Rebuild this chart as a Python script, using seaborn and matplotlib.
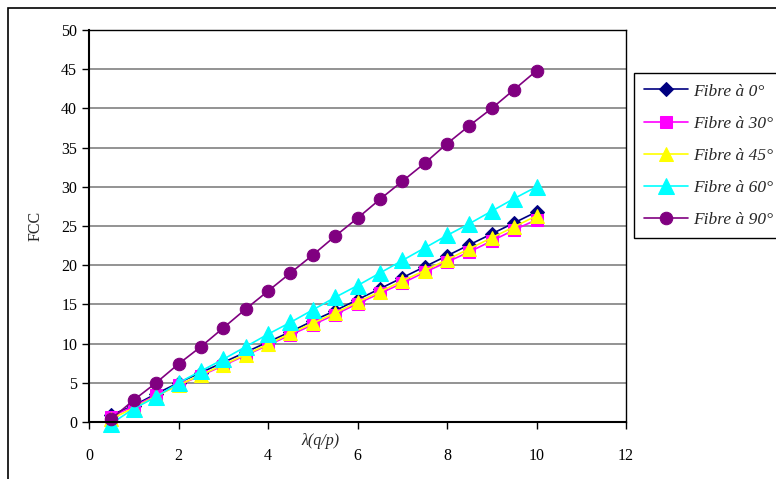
import matplotlib
matplotlib.use('Agg')
import matplotlib.pyplot as plt
import matplotlib.patches as mpatches
import numpy as np
import pandas as pd
import seaborn as sns

# lambda(q/p) values
lam = [0.5, 1, 1.5, 2, 2.5, 3, 3.5, 4, 4.5, 5, 5.5, 6, 6.5, 7, 7.5, 8, 8.5, 9, 9.5, 10]

fibre_0 = [0.9, 2.1, 3.6, 5.0, 6.3, 7.6, 8.9, 10.2, 11.5, 12.9, 14.2, 15.6, 17.0, 18.4, 19.8, 21.2, 22.6, 24.0, 25.4, 26.8]
fibre_30 = [0.7, 2.0, 3.4, 4.7, 5.9, 7.2, 8.5, 9.8, 11.1, 12.4, 13.7, 15.1, 16.4, 17.7, 19.1, 20.4, 21.7, 23.1, 24.5, 25.8]
fibre_45 = [0.4, 1.8, 3.3, 4.7, 6.0, 7.3, 8.6, 9.9, 11.3, 12.6, 13.9, 15.3, 16.6, 18.0, 19.3, 20.7, 22.1, 23.5, 24.9, 26.3]
fibre_60 = [-0.2, 1.7, 3.2, 5.0, 6.5, 8.0, 9.6, 11.2, 12.7, 14.3, 15.9, 17.4, 19.0, 20.6, 22.2, 23.8, 25.3, 26.9, 28.5, 30.0]
fibre_90 = [0.4, 2.8, 5.0, 7.4, 9.6, 12.0, 14.4, 16.7, 19.0, 21.3, 23.7, 26.0, 28.4, 30.7, 33.0, 35.5, 37.8, 40.0, 42.4, 44.8]

labels = ['Fibre à 0°', 'Fibre à 30°', 'Fibre à 45°', 'Fibre à 60°', 'Fibre à 90°']
series = [fibre_0, fibre_30, fibre_45, fibre_60, fibre_90]
colors = ['#000080', '#FF00FF', '#FFFF00', '#00FFFF', '#800080']
markers = ['D', 's', '^', '^', 'o']
msizes = [7, 9, 10, 11, 9]

sns.set_theme(style='white')
plt.rcParams['font.family'] = ['Liberation Serif', 'DejaVu Serif']

df = pd.DataFrame({
    'lam': np.tile(lam, len(labels)),
    'fcc': np.concatenate(series),
    'serie': np.repeat(labels, len(lam)),
})

fig = plt.figure(figsize=(7.76, 4.79), dpi=100)
ax = fig.add_axes([89 / 776, 57 / 479, 537 / 776, 392 / 479])

for lab, col, mk, ms in zip(labels, colors, markers, msizes):
    sub = df[df['serie'] == lab]
    sns.lineplot(data=sub, x='lam', y='fcc', ax=ax, color=col, marker=mk,
                 markersize=ms, markeredgecolor=col, linewidth=1.2,
                 label=lab, clip_on=False, legend=False)

ax.set_xlim(0, 12)
ax.set_ylim(0, 50)
ax.set_xticks(range(0, 13, 2))
ax.set_yticks(range(0, 51, 5))
ax.yaxis.grid(True, color='#808080', linewidth=1.2)
ax.set_axisbelow(True)
ax.set_xlabel('')
ax.set_ylabel('')
for s in ax.spines.values():
    s.set_color('#000000')
    s.set_linewidth(1.0)
ax.spines['left'].set_linewidth(1.5)
ax.spines['bottom'].set_linewidth(1.5)
ax.tick_params(axis='both', direction='out', length=5, width=1, color='black',
               labelsize=11.5, labelcolor='black', bottom=True, left=True)
ax.tick_params(axis='x', pad=14)

fig.text(320 / 776, 1 - 441 / 479, 'λ(q/p)', fontsize=11.5, style='italic',
         ha='center', va='center')
fig.text(36 / 776, 1 - 226 / 479, 'FCC', fontsize=11.5, rotation=90,
         ha='center', va='center')

handles, _ = ax.get_legend_handles_labels()
leg = fig.legend(handles, labels, loc='upper left', bbox_to_anchor=(634 / 776, 1 - 73 / 479),
                 borderaxespad=0, frameon=True, fancybox=False, edgecolor='black', framealpha=1,
                 prop={'family': 'Liberation Serif', 'style': 'italic', 'size': 12.5},
                 handlelength=2.5, labelspacing=0.92, borderpad=0.6, handletextpad=0.3)
leg.get_frame().set_linewidth(1.0)

# outer chart border
fig.patches.append(mpatches.Rectangle((8 / 776, -0.1), 1.2, 1 - 8 / 479 + 0.1,
                                      transform=fig.transFigure, fill=False,
                                      edgecolor='black', linewidth=1.2))

fig.savefig('out.png', dpi=100)
